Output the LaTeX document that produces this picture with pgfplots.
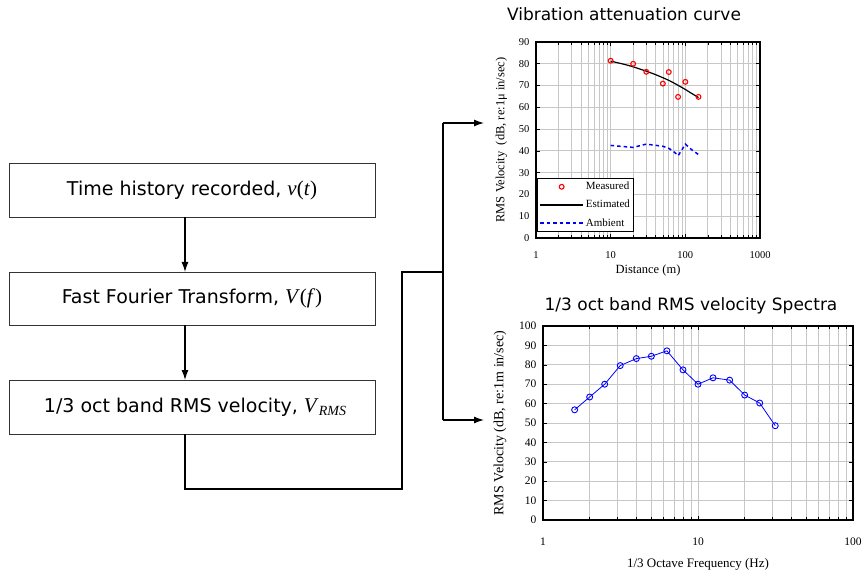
\documentclass[border=0pt]{standalone}
\usepackage{fontspec}
\setmainfont{Liberation Serif}
\newfontfamily\verd{DejaVu Sans}
\usepackage{pgfplots}
\pgfplotsset{compat=1.18}
\usetikzlibrary{arrows.meta}
\pgfplotstableread{
x y
10 81.4
20 80.0
30 76.3
50 70.9
60 76.2
80 64.8
100 71.7
150 64.8
}\measured
\pgfplotstableread{
x y
10 81.2
15 79.8
20 78.6
30 76.6
40 75.0
50 73.6
60 72.4
70 71.2
80 70.1
100 68.2
120 66.5
150 64.5
}\estimated
\pgfplotstableread{
x y
10 42.5
20 41.6
30 43.1
41 42.5
50 42.1
60 41.2
72 39.3
80 37.8
90 40.5
100 43.1
120 40.7
150 38.3
}\ambient
\pgfplotstableread{
x y
1.6 56.8
2.0 63.4
2.5 70.0
3.15 79.6
4.0 83.2
5.0 84.4
6.3 87.2
8.0 77.4
10.0 70.0
12.5 73.3
16.0 72.1
20.0 64.4
25.0 60.3
31.5 48.6
}\spectra
\pgfplotsset{
  mycommon/.style={
    scale only axis, anchor=south west,
    log ticks with fixed point,
    /pgf/number format/1000 sep={},
    /pgf/number format/assume math mode=true,
    grid=both,
    major grid style={black!22, line width=0.9pt},
    minor grid style={black!22, line width=0.7pt},
    axis line style={line width=1.1pt},
    tick style={black, line width=0.6pt},
  }
}
\newcommand{\mth}[1]{{\fontsize{21}{24}\selectfont\rmfamily #1}}
\begin{document}
\begin{tikzpicture}[x=1pt,y=1pt]
\useasboundingbox (0,0) rectangle (864,576);
% flowchart
\begin{scope}[line width=0.8pt]
\draw[black!80] (9,359) rectangle (375,413);
\draw[black!80] (9,251) rectangle (375,304);
\draw[black!80] (9,142) rectangle (375,196);
\end{scope}
\node at (192,386) {\verd\fontsize{19}{22}\selectfont Time history recorded, \mth{\textit{v}(\textit{t})}};
\node at (192,277.5) {\verd\fontsize{19}{22}\selectfont Fast Fourier Transform, \mth{\textit{V}(\textit{f})}};
\node at (195,169) {\verd\fontsize{19}{22}\selectfont 1/3 oct band RMS velocity, \mth{\textit{V}\raisebox{-0.3ex}{\fontsize{14}{14}\selectfont\textit{RMS}}}};
\begin{scope}[line width=1.3pt, -{Latex[length=10pt,width=7pt]}]
\draw (185,359) -- (185,304);
\draw (185,251) -- (185,196);
\draw (443,453) -- (484,453);
\draw (443,156) -- (484,156);
\end{scope}
\draw[line width=1.3pt] (185,142) -- (185,87) -- (402,87) -- (402,304) -- (443,304);
\draw[line width=1.3pt] (443,453) -- (443,156);
% titles
\node at (624,562) {\verd\fontsize{17}{20}\selectfont Vibration attenuation curve};
\node at (691,270) {\verd\fontsize{17}{20}\selectfont 1/3 oct band RMS velocity Spectra};
% plot 1
\begin{semilogxaxis}[mycommon,
  at={(536pt,338pt)}, width=224pt, height=196pt,
  xmin=1, xmax=1000, ymin=0, ymax=90, ytick={0,10,...,90},
  tick label style={font=\fontsize{10.5}{12}\selectfont},
  yticklabel style={xshift=-3pt},
  xticklabel style={yshift=-10pt},
  label style={font=\fontsize{12.5}{14}\selectfont},
  xlabel={Distance (m)}, ylabel={RMS Velocity \ (dB, re:1μ in/sec)},
  xlabel style={at={(axis description cs:0.5,-0.165)}, anchor=center},
  ylabel style={at={(axis description cs:-0.155,0.5)}, anchor=center},
  legend style={at={(0.004,0.03)}, anchor=south west, draw=black, line width=1pt,
    font=\fontsize{11}{13}\selectfont, fill=white, inner sep=1pt, row sep=5pt,
    inner xsep=2pt, inner ysep=2pt},
  legend cell align=left,
  legend image code/.code={\draw[mark repeat=2,mark phase=2,#1] plot coordinates {(0pt,0pt)(21.5pt,0pt)(43pt,0pt)};},
]
\addplot[only marks, mark=o, mark size=2.4pt, red, line width=1.1pt] table {\measured};
\addlegendentry{Measured}
\addplot[black, line width=1.2pt, smooth] table {\estimated};
\addlegendentry{Estimated}
\addplot[blue, line width=1.5pt, dash pattern=on 3.5pt off 3pt] table {\ambient};
\addlegendentry{Ambient}
\end{semilogxaxis}
% plot 2
\begin{semilogxaxis}[mycommon,
  at={(543pt,56pt)}, width=310pt, height=194pt,
  xmin=1, xmax=100, ymin=0, ymax=100, ytick={0,10,...,100},
  tick label style={font=\fontsize{11.5}{13}\selectfont},
  yticklabel style={xshift=-3pt},
  xticklabel style={yshift=-14pt},
  xlabel={1/3 Octave Frequency (Hz)}, ylabel={RMS Velocity (dB, re:1m in/sec)},
  xlabel style={at={(axis description cs:0.5,-0.227)}, anchor=center, font=\fontsize{13}{15}\selectfont},
  ylabel style={at={(axis description cs:-0.139,0.5)}, anchor=center, font=\fontsize{14}{16}\selectfont},
]
\addplot[blue, line width=0.8pt, mark=o, mark size=3pt, mark options={fill=white, line width=0.9pt}] table {\spectra};
\end{semilogxaxis}
\end{tikzpicture}
\end{document}
